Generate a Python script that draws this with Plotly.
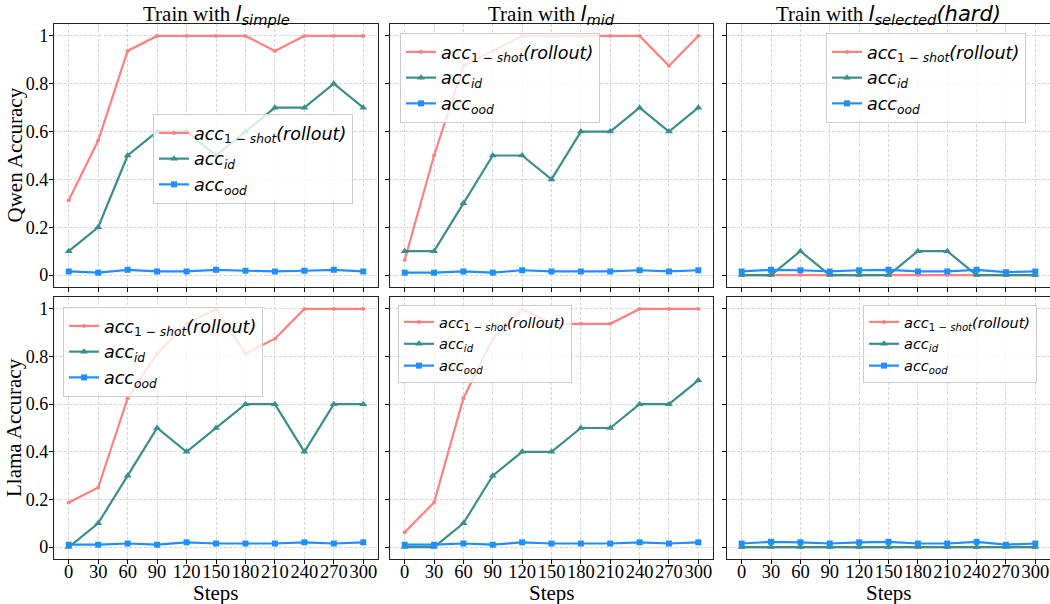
import plotly.graph_objects as go
from plotly.subplots import make_subplots

# Training steps shared by every panel
steps = [0, 30, 60, 90, 120, 150, 180, 210, 240, 270, 300]

# Qwen
qwen_simple_rollout = [0.3125, 0.5625, 0.9375, 1, 1, 1, 1, 0.9375, 1, 1, 1]
qwen_simple_id = [0.1, 0.2, 0.5, 0.6, 0.6, 0.5, 0.6, 0.7, 0.7, 0.8, 0.7]
qwen_simple_ood = [0.015, 0.01, 0.022, 0.015, 0.015, 0.022, 0.018, 0.015, 0.018, 0.022, 0.015]

qwen_mid_rollout = [0.0625, 0.5, 0.875, 0.9375, 1, 1, 1, 1, 1, 0.875, 1]
qwen_mid_id = [0.1, 0.1, 0.3, 0.5, 0.5, 0.4, 0.6, 0.6, 0.7, 0.6, 0.7]
qwen_mid_ood = [0.01, 0.01, 0.015, 0.01, 0.02, 0.015, 0.015, 0.015, 0.02, 0.015, 0.02]

qwen_hard_rollout = [0, 0, 0, 0, 0, 0, 0, 0, 0, 0, 0]
qwen_hard_id = [0, 0, 0.1, 0, 0, 0, 0.1, 0.1, 0, 0, 0]
qwen_hard_ood = [0.015, 0.022, 0.02, 0.015, 0.02, 0.022, 0.015, 0.015, 0.022, 0.012, 0.015]

# Llama
llama_simple_rollout = [0.1875, 0.25, 0.625, 0.8125, 0.9375, 1, 0.8125, 0.875, 1, 1, 1]
llama_simple_id = [0, 0.1, 0.3, 0.5, 0.4, 0.5, 0.6, 0.6, 0.4, 0.6, 0.6]
llama_simple_ood = [0.01, 0.01, 0.015, 0.01, 0.02, 0.015, 0.015, 0.015, 0.02, 0.015, 0.02]

llama_mid_rollout = [0.0625, 0.1875, 0.625, 0.875, 1, 0.9375, 0.9375, 0.9375, 1, 1, 1]
llama_mid_id = [0, 0, 0.1, 0.3, 0.4, 0.4, 0.5, 0.5, 0.6, 0.6, 0.7]
llama_mid_ood = [0.01, 0.01, 0.015, 0.01, 0.02, 0.015, 0.015, 0.015, 0.02, 0.015, 0.02]

llama_hard_rollout = [0, 0, 0, 0, 0, 0, 0, 0, 0, 0, 0]
llama_hard_id = [0, 0, 0, 0, 0, 0, 0, 0, 0, 0, 0]
llama_hard_ood = [0.015, 0.022, 0.02, 0.015, 0.02, 0.022, 0.015, 0.015, 0.022, 0.01, 0.015]

y_ticks = [0, 0.2, 0.4, 0.6, 0.8, 1]
y_tick_labels = ["0", "0.2", "0.4", "0.6", "0.8", "1"]
x_tick_labels = [str(s) for s in steps]

col_titles = [
    'Train with <span style="font-family:DejaVu Sans"><i>l</i><sub><i>simple</i></sub></span>',
    'Train with <span style="font-family:DejaVu Sans"><i>l</i><sub><i>mid</i></sub></span>',
    'Train with <span style="font-family:DejaVu Sans"><i>l</i><sub><i>selected</i></sub><i>(hard)</i></span>',
]
row_titles = ["Qwen Accuracy", "Llama Accuracy"]

series_names = [
    "<i>acc</i><sub>1 − <i>shot</i></sub><i>(rollout)</i>",
    "<i>acc</i><sub><i>id</i></sub>",
    "<i>acc</i><sub><i>ood</i></sub>",
]
series_colors = ["#ff8080", "#3a8f8c", "#1e8fff"]
series_symbols = ["circle", "triangle-up", "square"]
series_marker_sizes = [4, 7, 6]

panels = [
    [(qwen_simple_rollout, qwen_simple_id, qwen_simple_ood),
     (qwen_mid_rollout, qwen_mid_id, qwen_mid_ood),
     (qwen_hard_rollout, qwen_hard_id, qwen_hard_ood)],
    [(llama_simple_rollout, llama_simple_id, llama_simple_ood),
     (llama_mid_rollout, llama_mid_id, llama_mid_ood),
     (llama_hard_rollout, llama_hard_id, llama_hard_ood)],
]

W, H = 1050, 604
x_dom_px = [(54, 378), (390, 713), (727, 1050)]
y_dom_px = [(24, 287), (297, 559)]

# legend placement (left, top in pixels) and font size for each panel
legend_specs = [
    [(153, 114, 17.5), (400, 33, 17.5), (826, 33, 17.5)],
    [(63, 307, 17.5), (398, 305, 14.5), (863, 305, 14.5)],
]

fig = make_subplots(rows=2, cols=3)

serif = "Liberation Serif, Times New Roman, serif"

for r in range(2):
    for c in range(3):
        idx = r * 3 + c
        leg_name = "legend" if idx == 0 else f"legend{idx + 1}"
        for k, vals in enumerate(panels[r][c]):
            fig.add_trace(
                go.Scatter(
                    x=steps, y=vals, mode="lines+markers",
                    name=series_names[k],
                    line=dict(color=series_colors[k], width=2.2),
                    marker=dict(symbol=series_symbols[k], size=series_marker_sizes[k],
                                color=series_colors[k]),
                    legend=leg_name,
                ),
                row=r + 1, col=c + 1,
            )
        lx, ly, lfs = legend_specs[r][c]
        fig.update_layout({
            leg_name: dict(
                x=lx / W, y=1 - ly / H, xanchor="left", yanchor="top",
                bgcolor="rgba(255,255,255,0.8)", bordercolor="#cccccc", borderwidth=1,
                font=dict(family="DejaVu Sans", size=lfs, color="black"),
                tracegroupgap=0, itemwidth=30,
            )
        })

        x0, x1 = x_dom_px[c]
        y0, y1 = y_dom_px[r]
        fig.update_xaxes(
            domain=[x0 / W, x1 / W], range=[-15, 315],
            tickvals=steps, ticktext=x_tick_labels,
            showticklabels=(r == 1), tickangle=0,
            ticks="outside", ticklen=4, tickcolor="black",
            ticklabelstandoff=-8,
            showline=True, mirror=True, linecolor="#222222", linewidth=1.3,
            showgrid=True, gridcolor="#d6d6d6", gridwidth=0.8, griddash="3px,2px",
            zeroline=False,
            tickfont=dict(family=serif, size=18.5, color="black"),
            row=r + 1, col=c + 1,
        )
        fig.update_yaxes(
            domain=[1 - y1 / H, 1 - y0 / H], range=[-0.05, 1.05],
            tickvals=y_ticks, ticktext=y_tick_labels,
            showticklabels=(c == 0), tickangle=0,
            ticks="outside", ticklen=4, tickcolor="black",
            ticklabelstandoff=-3,
            showline=True, mirror=True, linecolor="#222222", linewidth=1.3,
            showgrid=True, gridcolor="#d6d6d6", gridwidth=0.8, griddash="3px,2px",
            zeroline=False,
            tickfont=dict(family=serif, size=18, color="black"),
            row=r + 1, col=c + 1,
        )

annotations = []
for c in range(3):
    x0, x1 = x_dom_px[c]
    annotations.append(dict(
        text=col_titles[c], x=(x0 + x1) / 2 / W, y=1 - 15 / H,
        xref="paper", yref="paper", xanchor="center", yanchor="middle",
        showarrow=False, font=dict(family=serif, size=21, color="black"),
    ))
    annotations.append(dict(
        text="Steps", x=(x0 + x1) / 2 / W, y=1 - 593 / H,
        xref="paper", yref="paper", xanchor="center", yanchor="middle",
        showarrow=False, font=dict(family=serif, size=21, color="black"),
    ))
for r in range(2):
    y0, y1 = y_dom_px[r]
    annotations.append(dict(
        text=row_titles[r], x=14 / W, y=1 - (y0 + y1) / 2 / H,
        xref="paper", yref="paper", xanchor="center", yanchor="middle",
        textangle=-90, showarrow=False, font=dict(family=serif, size=21, color="black"),
    ))

fig.update_layout(
    width=W, height=H,
    margin=dict(l=0, r=0, t=0, b=0),
    paper_bgcolor="white", plot_bgcolor="white",
    annotations=annotations,
    showlegend=True,
)

fig.write_html("out.html")
